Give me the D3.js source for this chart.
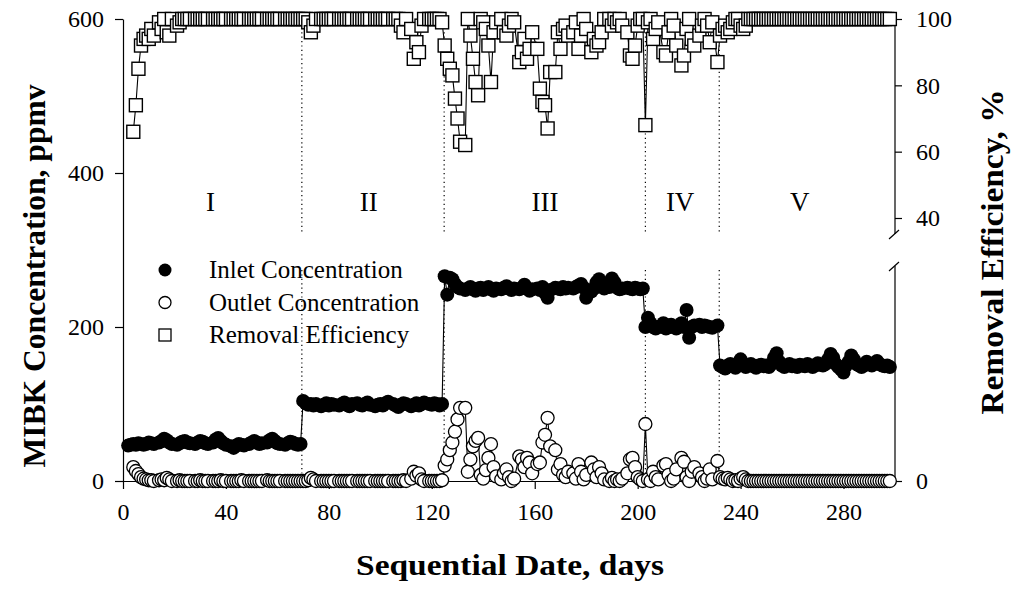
<!DOCTYPE html>
<html>
<head>
<meta charset="utf-8">
<script src="https://cdnjs.cloudflare.com/ajax/libs/d3/7.8.5/d3.min.js"></script>
<style>
  body { margin: 0; background: #fff; }
  svg text { font-family: "Liberation Serif", "Times New Roman", serif; fill: #000; }
</style>
</head>
<body>
<svg id="chart" width="1013" height="590"></svg>
<script>
// sampling days
const days = [
  2,3,4,5,6,7,8,9,10,11,12, 14,15,16,17,18,19, 21,22,23,24,25,26, 28,29,30,31,32,33,
  35,36,37,38,39,40, 42,43,44,45,46,47, 49,50,51,52,53,54, 56,57,58,59,60,61, 63,64,65,66,67,68,69,
  70,71,72,73,74,75, 77,78,79,80,81,82, 84,85,86,87,88,89, 91,92,93,94,95,96,
  98,99,100,101,102,103, 105,106,107,108,109,110, 112,113,114,115,116,117, 119,120,121,122,123,124,
  125,126,127,128,129,130,131, 133,134,135,136,137,138,139,140,141,142,143,144,145,
  147,148,149,150,151,152, 154,155,156,157,158,159, 161,162,163,164,165,166, 168,169,170,171,172,173,
  175,176,177,178,179,180, 182,183,184,185,186,187, 189,190,191,192,193,194, 196,197,198,199,200,201,202,
  203,204,205,206,207,208, 210,211,212,213,214,215, 217,218,219,220,221,222, 224,225,226,227,228,229, 231,
  232,233,234,235,236,237,238,239,240,241, 242,243,244,245,246,247,248,249,250,251,
  252,253,254,255,256,257,258,259,260,261, 262,263,264,265,266,267,268,269,270,271,
  272,273,274,275,276,277,278,279,280,281, 282,283,284,285,286,287,288,289,290,291,
  292,293,294,295,296,297,298
];

// inlet MIBK, ppmv
const inlet = [
  46,47,48,47,49,48,47,48,50,49,48, 50,52,55,53,50,48, 47,49,51,52,50,49, 48,50,52,51,49,48,
  50,54,56,52,49,47, 45,43,46,48,47,46, 48,50,52,50,48,49, 50,53,55,52,49,48, 47,49,51,50,48,47,48,
  104,101,99,100,98,100, 97,99,101,98,100,99, 98,100,102,99,97,100, 101,99,98,100,102,99,
  97,99,100,98,101,103, 100,98,96,99,101,100, 97,99,101,98,100,102, 100,99,101,100,98,100,
  266,242,264,262,256,252,250, 248,250,252,249,247,250,251,248,250,252,249,247,250,
  249,251,253,250,248,250, 249,251,255,250,247,249, 250,248,252,244,238,248, 251,250,249,252,250,251,
  250,252,254,256,251,238, 246,250,258,262,256,250, 252,263,258,251,249,250, 251,250,249,251,250,249,250,
  200,212,205,200,198,200, 205,198,200,203,200,198, 205,200,222,186,200,202, 203,200,202,201,200,199, 202,
  150,148,146,150,152,149,147,150,158,152, 148,150,152,149,147,150,151,149,150,148,
  152,160,166,155,150,148,150,152,149,150, 148,151,150,149,152,150,148,150,153,151,
  150,152,158,165,160,152,148,145,141,150, 155,163,158,152,150,148,150,155,152,150,
  153,156,152,150,149,150,148
];

// outlet MIBK, ppmv
const outlet = [
  null,null,18,13,9,5,3,2,1,1,0, 1,2,1,4,2,0, 0,1,0,0,0,0, 0,0,1,0,0,0,
  0,0,0,1,0,0, 0,0,0,0,1,0, 0,0,0,0,0,0, 1,0,0,0,0,0, 0,0,0,0,0,0,0,
  0,0,1,4,2,0, 0,0,0,0,0,0, 0,0,0,0,0,0, 0,0,0,0,0,0,
  0,0,0,0,0,0, 0,0,0,0,1,0, 3,12,7,10,2,0, 0,0,0,0,0,1,
  20,28,40,50,64,80,95, 95,12,28,45,52,56,8,3,14,30,48,18,6,
  2,10,15,5,0,3, 32,28,18,30,24,10, 22,24,50,60,82,45, 40,15,22,8,5,12,
  10,3,22,12,2,8, 24,15,5,18,10,2, 0,4,0,2,0,3, 10,28,30,18,5,2,0,
  74,2,0,12,5,2, 20,22,8,0,3,15, 30,25,5,0,12,18, 10,5,0,3,15,2, 26,
  5,3,2,4,2,0,1,0,3,5, 2,0,0,0,0,0,0,0,0,0,
  0,0,0,0,0,0,0,0,0,0, 0,0,0,0,0,0,0,0,0,0,
  0,0,0,0,0,0,0,0,0,0, 0,0,0,0,0,0,0,0,0,0,
  0,0,0,0,0,0,0
];

// removal efficiency, %
const removal = [
  null,null,66,74,85,92,94,95,94,97,95, 99,97,100,96,95,100, 98,99,100,100,100,100, 100,100,100,100,100,100,
  100,100,100,100,100,100, 100,100,100,100,100,100, 100,100,100,100,100,100, 100,100,100,100,100,100, 100,100,100,100,100,100,100,
  100,100,99,96,98,100, 100,100,100,100,100,100, 100,100,100,100,100,100, 100,100,100,100,100,100,
  100,100,100,100,100,100, 100,100,100,98,96,100, 97,88,93,90,98,100, 100,100,100,100,100,99,
  92,88,85,83,76,70,63, 62,100,95,88,81,77,100,99,97,92,81,96,99,
  100,96,95,98,100,99, 87,90,94,88,91,96, 91,79,75,74,67,84, 84,96,91,97,98,95,
  96,99,91,95,100,97, 90,94,92,93,96,100, 100,98,100,99,100,98, 96,89,88,92,98,100,100,
  68,99,100,94,97,99, 90,89,96,100,98,92, 86,89,97,100,94,92, 95,98,100,98,93,99, 87,
  95,97,98,96,97,99,100,100,98,97, 98,100,100,100,100,100,100,100,100,100,
  100,100,100,100,100,100,100,100,100,100, 100,100,100,100,100,100,100,100,100,100,
  100,100,100,100,100,100,100,100,100,100, 100,100,100,100,100,100,100,100,100,100,
  100,100,100,100,100,100,100
];

const phaseBreaks = [69.5, 124.8, 203, 231.7];
const phaseLabels = ["I", "II", "III", "IV", "V"];
const phaseLabelDays = [34, 95.5, 164, 216.5, 263];
const xTicks = [0, 40, 80, 120, 160, 200, 240, 280];
const leftTicks = [0, 200, 400, 600];
const rightTicks = [40, 60, 80, 100];
const legendNames = ["Inlet Concentration", "Outlet Concentration", "Removal Efficiency"];

const svg = d3.select("#chart");

const x = d3.scaleLinear().domain([0, 300]).range([123, 895]);
const yLeft = d3.scaleLinear().domain([0, 600]).range([481, 19]);
const yEff = d3.scaleLinear().domain([40, 100]).range([218, 19]);
const breakTop = 234, breakBottom = 266;

const rows = days.map((d, i) => ({ day: d, inlet: inlet[i], outlet: outlet[i], removal: removal[i] }));

// phase separators (dotted), broken at the axis break
phaseBreaks.forEach(b => {
  [[yLeft(600), breakTop], [breakBottom + 4, yLeft(0)]].forEach(seg => {
    svg.append("line")
      .attr("x1", x(b)).attr("x2", x(b))
      .attr("y1", seg[0]).attr("y2", seg[1])
      .attr("stroke", "#000").attr("stroke-width", 1.2)
      .attr("stroke-dasharray", "1.2,3.2");
  });
});

// phase labels
svg.selectAll("text.phase")
  .data(phaseLabels)
  .enter().append("text")
  .attr("class", "phase")
  .attr("x", (d, i) => x(phaseLabelDays[i]))
  .attr("y", 211)
  .attr("text-anchor", "middle")
  .style("font-size", "27px")
  .text(d => d);

// axes
const fmt = d3.format("d");
const gx = svg.append("g").attr("transform", `translate(0,${yLeft(0)})`)
  .call(d3.axisBottom(x).tickValues(xTicks).tickSize(8).tickSizeOuter(0).tickPadding(14).tickFormat(fmt));
const gl = svg.append("g").attr("transform", `translate(${x(0)},0)`)
  .call(d3.axisLeft(yLeft).tickValues(leftTicks).tickSize(8).tickSizeOuter(0).tickPadding(11).tickFormat(fmt));
const gr = svg.append("g").attr("transform", `translate(${x(300)},0)`)
  .call(d3.axisRight(yEff).tickValues(rightTicks).tickSize(7).tickPadding(14).tickFormat(fmt));
gr.select(".domain").remove();
const gr0 = svg.append("g").attr("transform", `translate(${x(300)},0)`)
  .call(d3.axisRight(yLeft).tickValues([0]).tickSize(7).tickPadding(14).tickFormat(fmt));
gr0.select(".domain").remove();

[gx, gl, gr, gr0].forEach(g => {
  g.selectAll("text").style("font-size", "24px").style("font-family", "'Liberation Serif', serif");
  g.selectAll("line, path").attr("stroke", "#000").attr("stroke-width", 1.2);
});

// right axis line with break
svg.append("line").attr("x1", x(300)).attr("x2", x(300)).attr("y1", yEff(100)).attr("y2", breakTop)
  .attr("stroke", "#000").attr("stroke-width", 1.2);
svg.append("line").attr("x1", x(300)).attr("x2", x(300)).attr("y1", breakBottom).attr("y2", yLeft(0))
  .attr("stroke", "#000").attr("stroke-width", 1.2);
[breakTop, breakBottom].forEach(yb => {
  svg.append("line")
    .attr("x1", x(300) - 6).attr("y1", yb + 5)
    .attr("x2", x(300) + 4).attr("y2", yb - 4)
    .attr("stroke", "#000").attr("stroke-width", 1.2);
});

// removal efficiency
const effRows = rows.filter(r => r.removal != null);
svg.append("path")
  .datum(effRows)
  .attr("fill", "none").attr("stroke", "#000").attr("stroke-width", 1.1)
  .attr("d", d3.line().x(d => x(d.day)).y(d => yEff(d.removal)));
svg.selectAll("rect.eff")
  .data(effRows)
  .enter().append("rect")
  .attr("class", "eff")
  .attr("x", d => x(d.day) - 6.5)
  .attr("y", d => yEff(d.removal) - 6.5)
  .attr("width", 13).attr("height", 13)
  .attr("fill", "#fff").attr("stroke", "#000").attr("stroke-width", 1.4);

// inlet concentration
svg.append("path")
  .datum(rows)
  .attr("fill", "none").attr("stroke", "#000").attr("stroke-width", 1.1)
  .attr("d", d3.line().x(d => x(d.day)).y(d => yLeft(d.inlet)));
svg.selectAll("circle.inlet")
  .data(rows)
  .enter().append("circle")
  .attr("class", "inlet")
  .attr("cx", d => x(d.day))
  .attr("cy", d => yLeft(d.inlet))
  .attr("r", 7)
  .attr("fill", "#000");

// outlet concentration
const outRows = rows.filter(r => r.outlet != null);
svg.append("path")
  .datum(outRows)
  .attr("fill", "none").attr("stroke", "#000").attr("stroke-width", 1.1)
  .attr("d", d3.line().x(d => x(d.day)).y(d => yLeft(d.outlet)));
svg.selectAll("circle.outlet")
  .data(outRows)
  .enter().append("circle")
  .attr("class", "outlet")
  .attr("cx", d => x(d.day))
  .attr("cy", d => yLeft(d.outlet))
  .attr("r", 6.5)
  .attr("fill", "#fff").attr("stroke", "#000").attr("stroke-width", 1.3);

// legend
const legend = svg.append("g").attr("transform", "translate(165,270)");
legendNames.forEach((name, i) => {
  const g = legend.append("g").attr("transform", `translate(0,${i * 32.5})`);
  if (i === 0) g.append("circle").attr("r", 6.5).attr("fill", "#000");
  if (i === 1) g.append("circle").attr("r", 6).attr("fill", "#fff").attr("stroke", "#000").attr("stroke-width", 1.3);
  if (i === 2) g.append("rect").attr("x", -6).attr("y", -6).attr("width", 12).attr("height", 12)
    .attr("fill", "#fff").attr("stroke", "#000").attr("stroke-width", 1.3);
  g.append("text").attr("x", 44).attr("y", 8).style("font-size", "25px").text(name);
});

// axis titles
svg.append("text")
  .attr("x", 510).attr("y", 575)
  .attr("text-anchor", "middle")
  .attr("textLength", 308).attr("lengthAdjust", "spacingAndGlyphs")
  .style("font-size", "30px").style("font-weight", "bold")
  .text("Sequential Date, days");
svg.append("text")
  .attr("transform", "translate(45,276) rotate(-90)")
  .attr("text-anchor", "middle")
  .attr("textLength", 383).attr("lengthAdjust", "spacingAndGlyphs")
  .style("font-size", "32px").style("font-weight", "bold")
  .text("MIBK Concentration, ppmv");
svg.append("text")
  .attr("transform", "translate(1003,252) rotate(-90)")
  .attr("text-anchor", "middle")
  .attr("textLength", 325).attr("lengthAdjust", "spacingAndGlyphs")
  .style("font-size", "32px").style("font-weight", "bold")
  .text("Removal Efficiency, %");
</script>
</body>
</html>
